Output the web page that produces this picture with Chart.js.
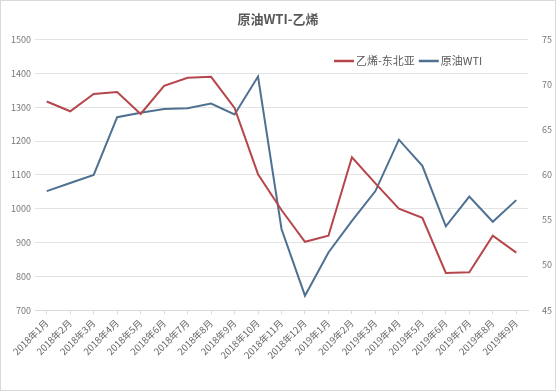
<!DOCTYPE html>
<html>
<head>
<meta charset="utf-8">
<script src="https://cdn.jsdelivr.net/npm/chart.js@4"></script>
<style>
    html, body { margin: 0; padding: 0; background: #fff; }
    #wrap { width: 554px; height: 389px; border: 1px solid #d9d9d9; }
</style>
</head>
<body>
<div id="wrap"><canvas id="chartOil" width="554" height="389"></canvas></div>
<script>
const months = [
    '2018年1月', '2018年2月', '2018年3月', '2018年4月', '2018年5月', '2018年6月',
    '2018年7月', '2018年8月', '2018年9月', '2018年10月', '2018年11月', '2018年12月',
    '2019年1月', '2019年2月', '2019年3月', '2019年4月', '2019年5月', '2019年6月',
    '2019年7月', '2019年8月', '2019年9月'
];
// 乙烯-东北亚, left axis
const ethylene = [1317, 1288, 1339, 1345, 1280, 1363, 1387, 1390, 1298, 1102, 996, 902,
    920, 1152, 1075, 1000, 973, 810, 812, 920, 870];
// 原油WTI, right axis
const wti = [58.2, 59.1, 60.0, 66.4, 66.9, 67.3, 67.4, 67.9, 66.7, 70.9, 54.0, 46.6,
    51.4, 54.9, 58.2, 63.9, 61.0, 54.3, 57.6, 54.8, 57.2];

const leftTicks = [700, 1500, 100];
const rightTicks = [45, 75, 5];

const RED = '#b5464c';
const BLUE = '#4e7091';

// legend drawn inside the plot area, top right
const legendPlugin = {
    id: 'insideLegend',
    afterDraw(chart) {
        const ctx = chart.ctx;
        let x = 333;
        const y = 60;
        ctx.save();
        ctx.font = '11px "Noto Sans CJK SC"';
        ctx.textBaseline = 'middle';
        chart.data.datasets.forEach(ds => {
            ctx.strokeStyle = ds.borderColor;
            ctx.lineWidth = 2.5;
            ctx.beginPath();
            ctx.moveTo(x, y);
            ctx.lineTo(x + 20, y);
            ctx.stroke();
            ctx.fillStyle = '#595959';
            ctx.fillText(ds.label, x + 22, y);
            x += 22 + ctx.measureText(ds.label).width + 4;
        });
        ctx.restore();
    }
};

new Chart(document.getElementById('chartOil'), {
    type: 'line',
    data: {
        labels: months,
        datasets: [
            {
                label: '乙烯-东北亚',
                data: ethylene,
                borderColor: RED,
                backgroundColor: RED,
                borderWidth: 2,
                pointRadius: 0,
                tension: 0,
                yAxisID: 'y'
            },
            {
                label: '原油WTI',
                data: wti,
                borderColor: BLUE,
                backgroundColor: BLUE,
                borderWidth: 2,
                pointRadius: 0,
                tension: 0,
                yAxisID: 'y1'
            }
        ]
    },
    options: {
        responsive: false,
        animation: false,
        layout: { padding: { left: 0, right: 0, top: 0, bottom: 26 } },
        plugins: {
            legend: { display: false },
            tooltip: { enabled: false },
            title: {
                display: true,
                text: '原油WTI-乙烯',
                color: '#595959',
                font: { family: '"Noto Sans CJK SC"', size: 13, weight: 'bold' },
                padding: { top: 10, bottom: 13 }
            }
        },
        scales: {
            x: {
                offset: true,
                grid: { display: true, drawOnChartArea: false, tickLength: 4, color: '#d9d9d9' },
                border: { color: '#d9d9d9' },
                ticks: {
                    autoSkip: false,
                    maxRotation: 45,
                    minRotation: 45,
                    color: '#666',
                    font: { family: '"Noto Sans CJK SC"', size: 9.5 }
                }
            },
            y: {
                position: 'left',
                min: leftTicks[0],
                max: leftTicks[1],
                ticks: {
                    stepSize: leftTicks[2],
                    color: '#777',
                    padding: 4,
                    font: { family: '"Noto Sans CJK SC"', size: 9 },
                    callback: v => String(v)
                },
                grid: { color: '#e3e3e3', drawTicks: false },
                border: { display: false },
                afterFit(scale) { scale.width = 34; }
            },
            y1: {
                position: 'right',
                min: rightTicks[0],
                max: rightTicks[1],
                ticks: {
                    stepSize: rightTicks[2],
                    color: '#777',
                    padding: 6,
                    font: { family: '"Noto Sans CJK SC"', size: 9 },
                    callback: v => String(v)
                },
                grid: { display: false },
                border: { display: false },
                afterFit(scale) { scale.width = 27; }
            }
        }
    },
    plugins: [legendPlugin]
});
</script>
</body>
</html>
